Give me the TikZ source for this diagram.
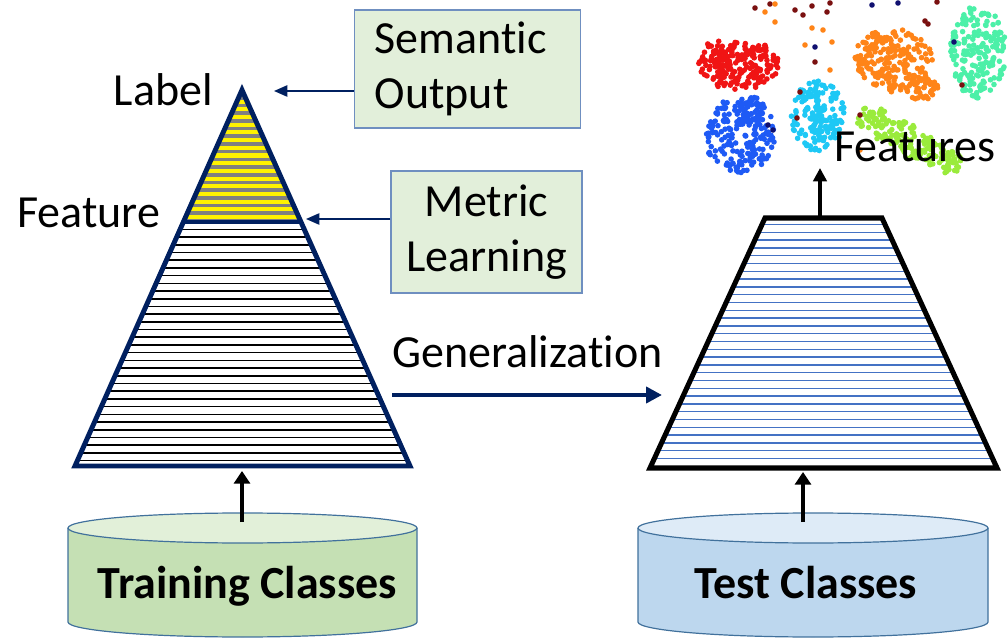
\documentclass[tikz,border=0pt]{standalone}
\usepackage{fontspec}
\setmainfont{Carlito}[Ligatures=NoCommon]
\usetikzlibrary{arrows.meta}

\definecolor{navy}{HTML}{002060}
\definecolor{boxfill}{HTML}{E2EFDA}
\definecolor{boxline}{HTML}{6F8FC0}
\definecolor{stripeblue}{HTML}{4472C4}
\definecolor{stripegray}{HTML}{808080}
\definecolor{cylgreen}{HTML}{C5E0B4}
\definecolor{cylgreentop}{HTML}{E2F0D9}
\definecolor{cylblue}{HTML}{BDD7EE}
\definecolor{cylbluetop}{HTML}{DEEBF7}
\definecolor{cylline}{HTML}{41719C}
\definecolor{ptred}{HTML}{F01414}
\definecolor{ptblue}{HTML}{1E5AF5}
\definecolor{ptcyan}{HTML}{1EC8F5}
\definecolor{ptorange}{HTML}{FF8418}
\definecolor{ptmint}{HTML}{4CF0A8}
\definecolor{ptlime}{HTML}{9AEB3C}
\definecolor{ptmaroon}{HTML}{7A1010}
\definecolor{ptnavy}{HTML}{101070}

% a cloud of #6 dots spread evenly over the ellipse at (#2,#3) with radii #4,#5
\newcommand\dotcloud[6]{%
  \foreach \k in {1,...,#6}{%
    \pgfmathsetmacro\rr{sqrt(abs(rand))}%
    \pgfmathsetmacro\aa{180*rand}%
    \fill[#1] ({#2+#4*\rr*cos(\aa)},{#3+#5*\rr*sin(\aa)}) circle[radius=2.1pt];
  }}

\begin{document}
\begin{tikzpicture}[x=0.75pt,y=-0.75pt,
  txt/.style={font=\fontsize{34.5}{40}\selectfont, inner sep=0pt},
  infobox/.style={draw=boxline, line width=0.9pt, fill=boxfill,
    font=\fontsize{34.5}{41}\selectfont},
  thinarrow/.style={draw=navy, line width=1.1pt, -{Triangle[length=10pt,width=8.5pt]}},
  fatarrow/.style={draw=black, line width=3pt, -{Triangle[length=9.5pt,width=12pt]}},
  cyltext/.style={font=\bfseries\fontsize{34.5}{40}\selectfont, inner sep=0pt}]
\useasboundingbox (0,0) rectangle (1008,638);

% ---------- feature scatter ----------
\begin{scope}
\clip (680,0) rectangle (1008,185);
\pgfmathsetseed{11}
\dotcloud{ptred}{738}{66}{40}{24}{150}
\dotcloud{ptred}{720}{55}{20}{14}{40}
\dotcloud{ptred}{760}{58}{18}{14}{40}
\dotcloud{ptblue}{740}{135}{36}{38}{190}
\dotcloud{ptblue}{752}{108}{14}{14}{30}
\dotcloud{ptcyan}{818}{116}{27}{36}{170}
\dotcloud{ptorange}{893}{60}{40}{32}{200}
\dotcloud{ptorange}{922}{88}{16}{12}{40}
\dotcloud{ptmint}{978}{52}{28}{46}{190}
\dotcloud{ptlime}{872}{118}{17}{11}{40}
\dotcloud{ptlime}{895}{132}{22}{12}{55}
\dotcloud{ptlime}{920}{148}{22}{13}{55}
\dotcloud{ptlime}{945}{162}{18}{12}{45}
\foreach \p in {(755,8),(770,4),(795,10),(803,15),(812,6),(827,12),(830,3),(815,62),(800,92),(797,118),(860,115),(962,85),(925,21),(928,24),(937,2)}
  \fill[ptmaroon] \p circle[radius=2.1pt];
\foreach \p in {(765,12),(775,22),(812,28),(823,30),(830,70),(832,42),(805,45),(775,4),(860,150)}
  \fill[ptorange] \p circle[radius=2.1pt];
\foreach \p in {(815,47),(898,3),(872,5),(954,42),(768,125),(773,130)}
  \fill[ptnavy] \p circle[radius=2.1pt];
\end{scope}

% ---------- training network (triangle) ----------
\coordinate (apex) at (242,90);
\coordinate (triL) at (75,466);
\coordinate (triR) at (410,466);
\coordinate (featL) at (183,222);
\coordinate (featR) at (301,222);
\begin{scope}
  \clip (apex) -- (triR) -- (triL) -- cycle;
  \fill[yellow] (60,85) rectangle (420,222);
  \foreach \y in {96,103.7,...,220}
    \fill[stripegray] (60,\y) rectangle (420,\y+3.6);
  \foreach \y in {229.5,237.2,...,464}
    \draw[black, line width=1.2pt] (60,\y) -- (420,\y);
\end{scope}
\draw[navy, line width=3.7pt, line join=miter] (apex) -- (triR) -- (triL) -- cycle;
\draw[navy, line width=3pt] (featL) -- (featR);
\coordinate (triBase) at (242,471);
\coordinate (labelIn) at (274,91);
\coordinate (metricIn) at (306,219);

% ---------- test network (trapezoid) ----------
\coordinate (tzTL) at (765,218);
\coordinate (tzTR) at (882,218);
\coordinate (tzBR) at (997,468);
\coordinate (tzBL) at (650,468);
\begin{scope}
  \clip (tzTL) -- (tzTR) -- (tzBR) -- (tzBL) -- cycle;
  \foreach \y in {224.5,232.3,...,466}
    \draw[stripeblue, line width=1.1pt] (640,\y) -- (1000,\y);
\end{scope}
\draw[black, line width=3.8pt, line join=miter] (tzTL) -- (tzTR) -- (tzBR) -- (tzBL) -- cycle;
\coordinate (tzTop) at (820,216);
\coordinate (tzBase) at (803,472);
\coordinate (featTip) at (820,168);

% ---------- side boxes ----------
\node[infobox, minimum width=168.75pt, minimum height=88.5pt,
      text width=139pt, inner xsep=15pt, align=left] (semantic) at (467.5,69)
      {Semantic\\Output};
\node[infobox, minimum width=143.25pt, minimum height=91.5pt, align=center]
      (metric) at (486.5,232) {Metric\\Learning};
\draw[thinarrow] (semantic.west |- labelIn) -- (labelIn);
\draw[thinarrow] (metric.west |- metricIn) -- (metricIn);

% ---------- labels ----------
\node[txt, anchor=base east] (lbl) at (213,106) {Label};
\node[txt, anchor=base west] (feat) at (17,228) {Feature};
\node[txt, anchor=base west] (gen) at (392,368) {Generalization};
\node[txt, anchor=base west] (feats) at (834,162) {Features};

% ---------- generalization arrow ----------
\coordinate (genA) at (392,395);
\coordinate (genB) at (662,395);
\draw[navy, line width=3pt, -{Triangle[length=12pt,width=12pt]}] (genA) -- (genB);

% ---------- cylinders ----------
\fill[cylgreen] (68,528) -- (68,622) arc[start angle=180,end angle=0,x radius=174.5,y radius=15]
  -- (417,528) arc[start angle=0,end angle=180,x radius=174.5,y radius=15] -- cycle;
\draw[cylline, line width=0.9pt] (68,528) -- (68,622) arc[start angle=180,end angle=0,x radius=174.5,y radius=15] -- (417,528);
\filldraw[fill=cylgreentop, draw=cylline, line width=0.9pt] (242.5,528) ellipse[x radius=174.5, y radius=15];
\node[cyltext, anchor=base] (train) at (247.5,598) {Training Classes};

\fill[cylblue] (638,528) -- (638,622) arc[start angle=180,end angle=0,x radius=175,y radius=15]
  -- (988,528) arc[start angle=0,end angle=180,x radius=175,y radius=15] -- cycle;
\draw[cylline, line width=0.9pt] (638,528) -- (638,622) arc[start angle=180,end angle=0,x radius=175,y radius=15] -- (988,528);
\filldraw[fill=cylbluetop, draw=cylline, line width=0.9pt] (813,528) ellipse[x radius=175, y radius=15];
\node[cyltext, anchor=base] (test) at (806,598) {Test Classes};

\coordinate (trainTop) at (242,522);
\coordinate (testTop) at (803,522);
\draw[fatarrow] (trainTop) -- (triBase);
\draw[fatarrow] (testTop) -- (tzBase);
\draw[black, line width=2.6pt, -{Triangle[length=10pt,width=10pt]}] (tzTop) -- (featTip);
\end{tikzpicture}
\end{document}
